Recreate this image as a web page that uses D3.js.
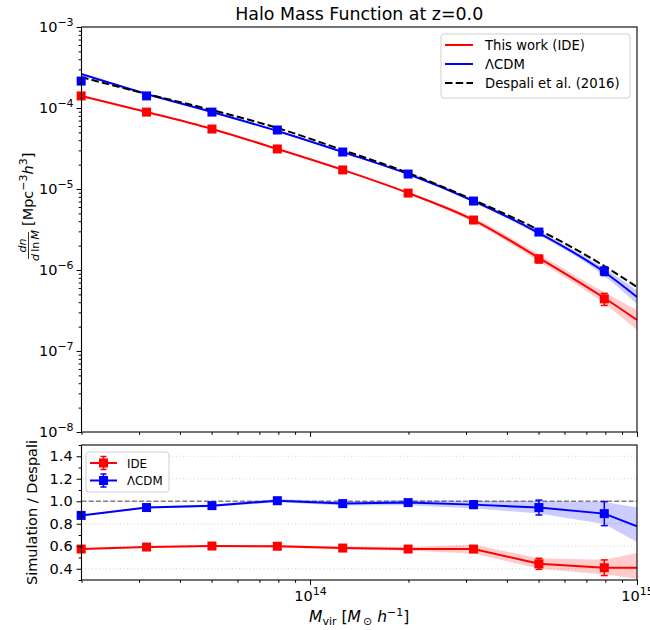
<!DOCTYPE html>
<html>
<head>
<meta charset="utf-8">
<script src="https://cdn.jsdelivr.net/npm/d3@7"></script>
<style>
  body { margin: 0; background: #fff; }
  text { font-family: "DejaVu Sans", sans-serif; }
</style>
</head>
<body>
<svg width="650" height="630"></svg>
<script>
// model curves, sampled at log10(M)
var curveLogM = [13.3, 13.5, 13.7, 13.9, 14.1, 14.3, 14.5, 14.7, 14.9, 15.0];
var ideCurve     = [1.41e-4, 8.93e-5, 5.51e-5, 3.12e-5, 1.72e-5, 8.93e-6, 4.14e-6, 1.41e-6, 4.51e-7, 2.42e-7];
var lcdmCurve    = [2.63e-4, 1.49e-4, 8.93e-5, 5.20e-5, 2.86e-5, 1.53e-5, 7.11e-6, 2.86e-6, 9.44e-7, 4.64e-7];
var despaliCurve = [2.41e-4, 1.49e-4, 9.44e-5, 5.67e-5, 3.03e-5, 1.58e-5, 7.31e-6, 3.12e-6, 1.12e-6, 6.17e-7];
// shaded band half width (dex)
var ideBand  = [0.005, 0.005, 0.006, 0.008, 0.010, 0.012, 0.030, 0.045, 0.070, 0.120];
var lcdmBand = [0.004, 0.004, 0.005, 0.006, 0.008, 0.010, 0.015, 0.025, 0.048, 0.085];
// ratio to Despali
var ideRatio  = [0.575, 0.593, 0.602, 0.600, 0.584, 0.575, 0.575, 0.444, 0.409, 0.410];
var lcdmRatio = [0.874, 0.944, 0.961, 1.005, 0.979, 0.988, 0.970, 0.944, 0.890, 0.777];

// simulation bins
var binLogM = [13.3, 13.5, 13.7, 13.9, 14.1, 14.3, 14.5, 14.7, 14.9];
var ideHMF  = [1.41e-4, 8.9e-5, 5.5e-5, 3.12e-5, 1.72e-5, 8.9e-6, 4.14e-6, 1.37e-6, 4.4e-7];
var lcdmHMF = [2.15e-4, 1.41e-4, 8.9e-5, 5.35e-5, 2.86e-5, 1.53e-5, 7.1e-6, 2.94e-6, 9.7e-7];
// relative errors
var ideErr  = [0.01, 0.01, 0.01, 0.01, 0.015, 0.02, 0.04, 0.11, 0.17];
var lcdmErr = [0.01, 0.01, 0.01, 0.01, 0.015, 0.02, 0.035, 0.07, 0.12];

var yTopTicks = [1e-8, 1e-7, 1e-6, 1e-5, 1e-4, 1e-3];
var yBotTicks = [0.4, 0.6, 0.8, 1.0, 1.2, 1.4];
var xTicks = [1e14, 1e15];

var red = "#ff0000", blue = "#0000ff";

var svg = d3.select("svg");

var x = d3.scaleLog().domain([2e13, 1e15]).range([81.5, 637]);
var yTop = d3.scaleLog().domain([1e-8, 1e-3]).range([432, 27]);
var yBot = d3.scaleLinear().domain([0.3, 1.5]).range([580, 445]);

var xL = x.range()[0], xR = x.range()[1];

// clip paths
var defs = svg.append("defs");
defs.append("clipPath").attr("id", "clipTop").append("rect")
    .attr("x", xL).attr("y", 27).attr("width", xR - xL).attr("height", 405);
defs.append("clipPath").attr("id", "clipBot").append("rect")
    .attr("x", xL).attr("y", 445).attr("width", xR - xL).attr("height", 135);

var curveData = curveLogM.map(function (lm, i) {
    return { m: Math.pow(10, lm), ide: ideCurve[i], lcdm: lcdmCurve[i], des: despaliCurve[i],
             bi: ideBand[i], bl: lcdmBand[i], ri: ideRatio[i], rl: lcdmRatio[i] };
});
var binData = binLogM.map(function (lm, i) {
    return { m: Math.pow(10, lm), ide: ideHMF[i], lcdm: lcdmHMF[i], ei: ideErr[i], el: lcdmErr[i],
             ri: ideRatio[i], rl: lcdmRatio[i] };
});

// superscript helper for tick labels like 10^-3
function powLabel(sel, exp) {
    sel.append("tspan").attr("font-size", 14.5).text("10");
    sel.append("tspan").attr("font-size", 11).attr("dy", -6.5).text(exp);
}

// ---------------- top panel ----------------
var topG = svg.append("g");
var topPlot = topG.append("g").attr("clip-path", "url(#clipTop)");

var area = function (key, band) {
    return d3.area().curve(d3.curveMonotoneX)
        .x(function (d) { return x(d.m); })
        .y0(function (d) { return yTop(d[key] * Math.pow(10, -d[band])); })
        .y1(function (d) { return yTop(d[key] * Math.pow(10, d[band])); });
};
var line = function (key) {
    return d3.line().curve(d3.curveMonotoneX)
        .x(function (d) { return x(d.m); })
        .y(function (d) { return yTop(d[key]); });
};

topPlot.append("path").datum(curveData).attr("d", area("ide", "bi"))
    .attr("fill", red).attr("fill-opacity", 0.2);
topPlot.append("path").datum(curveData).attr("d", area("lcdm", "bl"))
    .attr("fill", blue).attr("fill-opacity", 0.2);

topPlot.append("path").datum(curveData).attr("d", line("ide"))
    .attr("fill", "none").attr("stroke", red).attr("stroke-width", 2);
topPlot.append("path").datum(curveData).attr("d", line("lcdm"))
    .attr("fill", "none").attr("stroke", blue).attr("stroke-width", 2);
topPlot.append("path").datum(curveData).attr("d", line("des"))
    .attr("fill", "none").attr("stroke", "#000").attr("stroke-width", 2)
    .attr("stroke-dasharray", "7.5,3.2");

function drawPoints(g, key, errKey, yScale, color) {
    var pts = g.append("g");
    binData.forEach(function (d) {
        var v = d[key], e = d[errKey] * v;
        var cx = x(d.m);
        pts.append("line").attr("x1", cx).attr("x2", cx)
            .attr("y1", yScale(v - e)).attr("y2", yScale(v + e))
            .attr("stroke", color).attr("stroke-width", 1.5);
        [v - e, v + e].forEach(function (yy) {
            pts.append("line").attr("x1", cx - 3.5).attr("x2", cx + 3.5)
                .attr("y1", yScale(yy)).attr("y2", yScale(yy))
                .attr("stroke", color).attr("stroke-width", 1.5);
        });
        pts.append("rect").attr("x", cx - 4.5).attr("y", yScale(v) - 4.5)
            .attr("width", 9).attr("height", 9).attr("fill", color);
    });
}
drawPoints(topG, "ide", "ei", yTop, red);
drawPoints(topG, "lcdm", "el", yTop, blue);

// top axes
var minorTop = [];
for (var p = -8; p < -3; p++) for (var k = 2; k < 10; k++) minorTop.push(k * Math.pow(10, p));
var minorX = [2e13, 3e13, 4e13, 5e13, 6e13, 7e13, 8e13, 9e13, 2e14, 3e14, 4e14, 5e14, 6e14, 7e14, 8e14, 9e14];

topG.append("g").attr("transform", "translate(" + xL + ",0)")
    .call(d3.axisLeft(yTop).tickValues(minorTop).tickSize(2.8).tickFormat("").tickSizeOuter(0))
    .call(function (g) { g.select(".domain").remove(); });
var yAx = topG.append("g").attr("transform", "translate(" + xL + ",0)")
    .call(d3.axisLeft(yTop).tickValues(yTopTicks).tickSize(4.9).tickPadding(3).tickFormat("").tickSizeOuter(0))
    .call(function (g) { g.select(".domain").remove(); });
yAx.selectAll(".tick text").attr("fill", "#000").attr("dy", "0.45em").each(function (d) {
    powLabel(d3.select(this), "\u2212" + (-Math.round(Math.log10(d))));
});

topG.append("g").attr("transform", "translate(0,432)")
    .call(d3.axisBottom(x).tickValues(minorX).tickSize(2.8).tickFormat("").tickSizeOuter(0))
    .call(function (g) { g.select(".domain").remove(); });
topG.append("g").attr("transform", "translate(0,432)")
    .call(d3.axisBottom(x).tickValues(xTicks).tickSize(4.9).tickFormat("").tickSizeOuter(0))
    .call(function (g) { g.select(".domain").remove(); });

topG.append("rect").attr("x", xL).attr("y", 27).attr("width", xR - xL).attr("height", 405)
    .attr("fill", "none").attr("stroke", "#000").attr("stroke-width", 1.1);

// title
svg.append("text").attr("x", (xL + xR) / 2).attr("y", 20).attr("text-anchor", "middle")
    .attr("font-size", 17.4).text("Halo Mass Function at z=0.0");

// top legend
var leg = svg.append("g");
leg.append("rect").attr("x", 441).attr("y", 34).attr("width", 189).attr("height", 64).attr("rx", 3)
    .attr("fill", "#fff").attr("fill-opacity", 0.8).attr("stroke", "#d0d0d0");
var legItems = [
    { label: "This work (IDE)", color: red, dash: null },
    { label: "\u039BCDM", color: blue, dash: null },
    { label: "Despali et al. (2016)", color: "#000", dash: "7.5,3.2" }
];
legItems.forEach(function (it, i) {
    var yy = 45 + i * 19;
    leg.append("line").attr("x1", 445).attr("x2", 473).attr("y1", yy).attr("y2", yy)
        .attr("stroke", it.color).attr("stroke-width", 2).attr("stroke-dasharray", it.dash);
    leg.append("text").attr("x", 485).attr("y", yy + 5).attr("font-size", 13.2).text(it.label);
});

// top y label
var yl = svg.append("g").attr("transform", "translate(33,259) rotate(-90)");
yl.append("line").attr("x1", 0).attr("x2", 27).attr("y1", -4.5).attr("y2", -4.5)
    .attr("stroke", "#000").attr("stroke-width", 0.8);
yl.append("text").attr("x", 13.5).attr("y", -7).attr("text-anchor", "middle")
    .attr("font-size", 11).attr("font-style", "italic").text("dn");
var den = yl.append("text").attr("x", 13.5).attr("y", 5.5).attr("text-anchor", "middle").attr("font-size", 11);
den.append("tspan").attr("font-style", "italic").text("d");
den.append("tspan").text("\u2009ln\u2009");
den.append("tspan").attr("font-style", "italic").text("M");
var br = yl.append("text").attr("x", 33).attr("y", 0).attr("font-size", 14.5);
br.append("tspan").text("[Mpc");
br.append("tspan").attr("font-size", 11).attr("dy", -6.5).text("\u22123");
br.append("tspan").attr("font-style", "italic").attr("dy", 6.5).text("h");
br.append("tspan").attr("font-size", 11).attr("dy", -6.5).text("3");
br.append("tspan").attr("dy", 6.5).text("]");

// ---------------- bottom panel ----------------
var bot = svg.append("g");

bot.selectAll(".grid").data(yBotTicks).enter().append("line")
    .attr("x1", xL).attr("x2", xR)
    .attr("y1", function (d) { return yBot(d); }).attr("y2", function (d) { return yBot(d); })
    .attr("stroke", "#b0b0b0").attr("stroke-width", 0.8).attr("stroke-dasharray", "1,2.5")
    .attr("stroke-opacity", 0.7);
bot.append("line").attr("x1", xL).attr("x2", xR).attr("y1", yBot(1)).attr("y2", yBot(1))
    .attr("stroke", "#808080").attr("stroke-width", 1.3).attr("stroke-dasharray", "5,2.2");

var botPlot = bot.append("g").attr("clip-path", "url(#clipBot)");
var rArea = function (key, band) {
    return d3.area().curve(d3.curveLinear)
        .x(function (d) { return x(d.m); })
        .y0(function (d) { return yBot(d[key] * Math.pow(10, -d[band])); })
        .y1(function (d) { return yBot(d[key] * Math.pow(10, d[band])); });
};
var rLine = function (key) {
    return d3.line().x(function (d) { return x(d.m); }).y(function (d) { return yBot(d[key]); });
};
botPlot.append("path").datum(curveData).attr("d", rArea("ri", "bi"))
    .attr("fill", red).attr("fill-opacity", 0.2);
botPlot.append("path").datum(curveData).attr("d", rArea("rl", "bl"))
    .attr("fill", blue).attr("fill-opacity", 0.2);
botPlot.append("path").datum(curveData).attr("d", rLine("ri"))
    .attr("fill", "none").attr("stroke", red).attr("stroke-width", 2);
botPlot.append("path").datum(curveData).attr("d", rLine("rl"))
    .attr("fill", "none").attr("stroke", blue).attr("stroke-width", 2);

drawPoints(bot, "ri", "ei", yBot, red);
drawPoints(bot, "rl", "el", yBot, blue);

// bottom axes
var minorBot = [0.3, 0.5, 0.7, 0.9, 1.1, 1.3, 1.5];
bot.append("g").attr("transform", "translate(" + xL + ",0)")
    .call(d3.axisLeft(yBot).tickValues(minorBot).tickSize(2.8).tickFormat("").tickSizeOuter(0))
    .call(function (g) { g.select(".domain").remove(); });
bot.append("g").attr("transform", "translate(" + xL + ",0)")
    .call(d3.axisLeft(yBot).tickValues(yBotTicks).tickSize(4.9).tickPadding(4)
        .tickFormat(d3.format(".1f")).tickSizeOuter(0))
    .attr("font-size", 14.5)
    .call(function (g) { g.select(".domain").remove(); g.selectAll("text").attr("fill", "#000"); });

bot.append("g").attr("transform", "translate(0,580)")
    .call(d3.axisBottom(x).tickValues(minorX).tickSize(2.8).tickFormat("").tickSizeOuter(0))
    .call(function (g) { g.select(".domain").remove(); });
var xAx = bot.append("g").attr("transform", "translate(0,580)")
    .call(d3.axisBottom(x).tickValues(xTicks).tickSize(4.9).tickPadding(5).tickFormat("").tickSizeOuter(0))
    .call(function (g) { g.select(".domain").remove(); });
xAx.selectAll(".tick text").attr("fill", "#000").attr("dy", "1.15em").each(function (d) {
    powLabel(d3.select(this), String(Math.round(Math.log10(d))));
});

bot.append("rect").attr("x", xL).attr("y", 445).attr("width", xR - xL).attr("height", 135)
    .attr("fill", "none").attr("stroke", "#000").attr("stroke-width", 1.1);

// bottom legend
var leg2 = svg.append("g");
leg2.append("rect").attr("x", 86).attr("y", 452).attr("width", 83).attr("height", 40).attr("rx", 3)
    .attr("fill", "#fff").attr("fill-opacity", 0.8).attr("stroke", "#d0d0d0");
[{ label: "IDE", color: red }, { label: "\u039BCDM", color: blue }].forEach(function (it, i) {
    var yy = 463 + i * 17.5, cx = 103.5;
    leg2.append("line").attr("x1", 90).attr("x2", 117).attr("y1", yy).attr("y2", yy)
        .attr("stroke", it.color).attr("stroke-width", 2);
    leg2.append("line").attr("x1", cx).attr("x2", cx).attr("y1", yy - 6.5).attr("y2", yy + 6.5)
        .attr("stroke", it.color).attr("stroke-width", 1.5);
    [yy - 6.5, yy + 6.5].forEach(function (c) {
        leg2.append("line").attr("x1", cx - 3).attr("x2", cx + 3).attr("y1", c).attr("y2", c)
            .attr("stroke", it.color).attr("stroke-width", 1.5);
    });
    leg2.append("rect").attr("x", cx - 4.5).attr("y", yy - 4.5).attr("width", 9).attr("height", 9)
        .attr("fill", it.color);
    leg2.append("text").attr("x", 127).attr("y", yy + 4.5).attr("font-size", 11.8).text(it.label);
});

// bottom y label
svg.append("text").attr("transform", "translate(37,512.5) rotate(-90)")
    .attr("text-anchor", "middle").attr("font-size", 14.5).text("Simulation / Despali");

// x label
var xl = svg.append("text").attr("x", (xL + xR) / 2).attr("y", 622)
    .attr("text-anchor", "middle").attr("font-size", 15.5);
xl.append("tspan").attr("font-style", "italic").text("M");
xl.append("tspan").attr("font-size", 11).attr("dy", 3).text("vir");
xl.append("tspan").attr("dy", -3).text(" [");
xl.append("tspan").attr("font-style", "italic").text("M");
xl.append("tspan").attr("font-size", 11).attr("dy", 3).text("\u2009\u2299");
xl.append("tspan").attr("font-style", "italic").attr("dy", -3).text(" h");
xl.append("tspan").attr("font-size", 11).attr("dy", -6.5).text("\u22121");
xl.append("tspan").attr("dy", 6.5).text("]");
</script>
</body>
</html>
